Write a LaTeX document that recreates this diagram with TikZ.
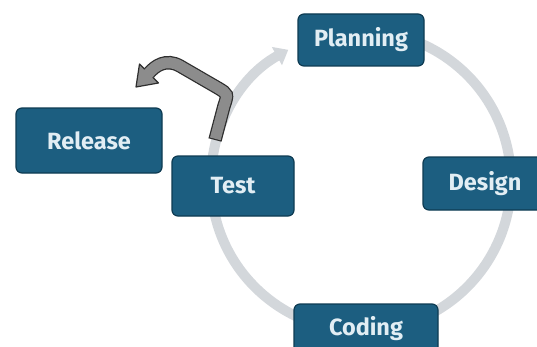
\documentclass[tikz,border=0pt]{standalone}
\usepackage{fontspec}
\setmainfont{Fira Sans}
\usetikzlibrary{arrows.meta}
\definecolor{boxfill}{HTML}{1C5E80}
\definecolor{boxedge}{HTML}{0E3B52}
\definecolor{boxtext}{HTML}{E2EEF4}
\definecolor{ringgray}{HTML}{D3D7DB}
\definecolor{arrowgray}{HTML}{8C8C8C}
\definecolor{arrowedge}{HTML}{2E2E2E}
\tikzset{
  phase/.style={draw=boxedge, line width=1.2pt, fill=boxfill, rounded corners=6pt,
    text=boxtext, font=\fontsize{23.5}{28}\selectfont\bfseries, inner sep=0pt},
  ring/.style={draw=ringgray, line width=10pt, -{Triangle[width=20pt,length=13pt]}},
}
\begin{document}
\begin{tikzpicture}[x=1pt,y=1pt]
\useasboundingbox (0,0) rectangle (537,346);
\clip (0,0) rectangle (537,346);
\fill[white] (0,0) rectangle (537,346);
% cycle ring
\coordinate (c) at (361,165);
\draw[ring] (c) ++(100:150) arc[start angle=100, end angle=-241, radius=150];
% phases
\node[phase, minimum width=126pt, minimum height=52pt] (planning) at (361,306) {Planning};
\node[phase, minimum width=124pt, minimum height=53pt] (design) at (485,162.5) {Design};
\node[phase, minimum width=144pt, minimum height=50pt] (coding) at (366,17) {Coding};
\node[phase, minimum width=122pt, minimum height=60pt] (test) at (233,160) {Test};
\node[phase, minimum width=146pt, minimum height=65pt] (release) at (89,205.5) {Release};
% bent arrow from Test toward Release
\coordinate (gstart) at (215,206);
\coordinate (gbase) at (149,273);
\def\gpath{(gstart) -- (224,240) .. controls (228,252) .. (218,258) -- (180,280) .. controls (166,288) and (155,280) .. (gbase)}
\draw[arrowedge, line width=13.5pt] \gpath;
\filldraw[fill=arrowgray, draw=arrowedge, line width=1.2pt, line join=round]
  (158.5,263) -- (136,259) -- (139.5,282) -- cycle;
\draw[arrowgray, line width=11pt, shorten <=1.2pt] \gpath -- (147,271);
\end{tikzpicture}
\end{document}
